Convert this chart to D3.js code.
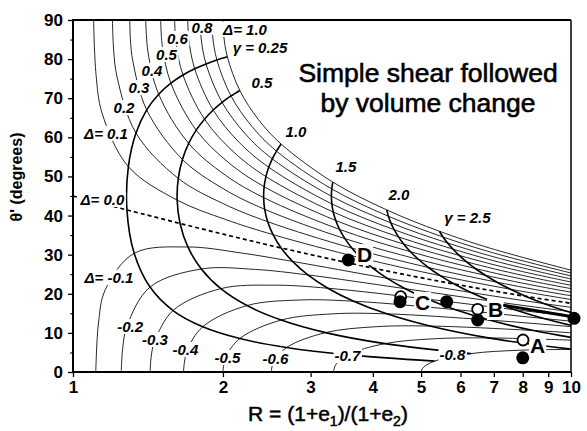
<!DOCTYPE html>
<html>
<head>
<meta charset="utf-8">
<script src="https://cdn.jsdelivr.net/npm/d3@7"></script>
<style>
  body { margin: 0; background: #fff; }
  text { font-family: "Liberation Sans", Arial, Helvetica, sans-serif; }
</style>
</head>
<body>
<svg id="chart" width="587" height="431"></svg>
<script>
// volume change levels (one thin curve each) and shear strain steps along them
const deltaLevels = [1.0, 0.9, 0.8, 0.7, 0.6, 0.5, 0.4, 0.3, 0.2, 0.1, 0.0,
                     -0.1, -0.2, -0.3, -0.4, -0.5, -0.6, -0.7, -0.8];
const gammaSteps = [0, 0.05, 0.1, 0.25, 0.5, 0.75, 1, 1.5, 2, 2.5, 3, 4];
// gamma values that get a heavy curve (columns of the grids below)
const gammaCurves = [0.25, 0.5, 1.0, 1.5, 2.0, 2.5];

// R = (1+e1)/(1+e2), rows follow deltaLevels, columns follow gammaSteps
const ratioGrid = [
  [2.0, null, 2.0067, 2.0414, 2.1626, 2.357, 2.618, 3.324, 4.266, 5.442, 6.854, 10.40],
  [1.9, null, 1.9072, 1.9452, 2.0763, 2.2846, 2.5625, 3.3083, 4.299, 5.535, 7.021, 10.754],
  [1.8, null, 1.808, 1.8496, 1.9926, 2.217, 2.5132, 3.3028, 4.348, 5.651, 7.217, 11.15],
  [1.7, null, 1.709, 1.7553, 1.9124, 2.155, 2.472, 3.310, 4.415, 5.792, 7.448, 11.61],
  [1.6, null, 1.6102, 1.6626, 1.8368, 2.1005, 2.4402, 3.331, 4.503, 5.963, 7.720, 12.14],
  [1.5, null, 1.5119, 1.5724, 1.7676, 2.055, 2.420, 3.370, 4.617, 6.171, 8.042, 12.755],
  [1.4, null, 1.4144, 1.486, 1.707, 2.0214, 2.4143, 3.430, 4.761, 6.423, 8.424, 13.47],
  [1.3, 1.3046, 1.3185, 1.4062, 1.6586, 2.0026, 2.4263, 3.5155, 4.944, 6.728, 8.880, 14.31],
  [1.2, 1.2068, 1.2260, 1.3382, 1.6271, 2.0028, 2.4602, 3.633, 5.173, 7.101, 9.427, 15.30],
  [1.1, 1.1124, 1.1442, 1.2918, 1.6185, 2.027, 2.5216, 3.791, 5.462, 7.559, 10.09, null],
  [1.0, 1.0513, 1.1051, 1.2832, 1.6404, 2.0822, 2.618, 4.0, 5.828, 8.127, 10.908, null],
  [1.1111, 1.1251, 1.1605, 1.327, 1.701, 2.1767, 2.760, 4.277, 6.297, 8.843, 11.93, null],
  [1.25, 1.2586, 1.2832, 1.4278, 1.81, 2.3226, 2.9624, 4.6474, 6.905, 9.76, 13.22, null],
  [1.4286, 1.4354, 1.456, 1.5882, 1.9809, 2.538, 3.249, 5.149, 7.713, 10.966, null, null],
  [1.6667, null, 1.6924, 1.822, 2.236, 2.854, 3.660, 5.845, 8.820, 12.60, null, null],
  [2.0, null, 2.0265, 2.1626, 2.618, 3.324, 4.266, 6.854, 10.40, null, null, null],
  [2.5, null, 2.5298, 2.6835, 3.214, 4.06, 5.208, 8.406, 12.82, null, null, null],
  [3.3333, null, 3.3698, 3.5608, 4.230, 5.320, 6.82, 11.04, null, null, null, null],
  [5.0, null, 5.052, 5.325, 6.291, 7.886, 10.1, null, null, null, null, null]
];

// theta' in degrees, same layout as ratioGrid
const thetaGrid = [
  [90, null, 86.19, 80.6, 71.98, 64.55, 58.28, 48.56, 41.44, 35.99, 31.72, 25.46],
  [90, null, 85.84, 79.78, 70.58, 62.85, 56.48, 46.81, 39.82, 34.52, 30.37, 24.31],
  [90, null, 85.42, 78.77, 68.94, 60.92, 54.5, 44.95, 38.13, 32.99, 28.98, 23.15],
  [90, null, 84.87, 77.53, 66.98, 58.75, 52.34, 42.98, 36.38, 31.43, 27.56, 21.97],
  [90, null, 84.17, 75.95, 64.65, 56.28, 49.96, 40.91, 34.56, 29.81, 26.11, 20.78],
  [90, null, 83.2, 73.86, 61.85, 53.5, 47.38, 38.74, 32.69, 28.15, 24.63, 19.56],
  [90, null, 81.79, 71.03, 58.45, 50.36, 44.59, 36.46, 30.75, 26.46, 23.13, 18.34],
  [90, 84.65, 79.54, 67.0, 54.35, 46.87, 41.6, 34.1, 28.76, 24.73, 21.59, 17.1],
  [90, 82.33, 75.41, 61.09, 49.5, 43.05, 38.43, 31.66, 26.72, 22.96, 20.04, 15.84],
  [90, 76.03, 66.14, 52.5, 43.96, 38.97, 35.12, 29.14, 24.63, 21.16, 18.45, null],
  [45, 44.28, 43.57, 41.44, 37.98, 34.72, 31.72, 26.57, 22.5, 19.33, 16.85, null],
  [0, 12.52, 20.99, 30.35, 31.97, 30.43, 28.27, 23.95, 20.33, 17.47, 15.22, null],
  [0, 6.22, 11.7, 21.72, 26.34, 26.22, 24.82, 21.3, 18.14, 15.59, 13.57, null],
  [0, 3.89, 7.53, 15.72, 21.32, 22.2, 21.42, 18.64, 15.92, 13.69, null, null],
  [0, null, 5.23, 11.56, 16.99, 18.41, 18.1, 15.96, 13.67, 11.77, null, null],
  [0, null, 3.75, 8.55, 13.28, 14.87, 14.87, 13.28, 11.42, null, null, null],
  [0, null, 2.69, 6.25, 10.07, 11.58, 11.75, 10.61, 9.14, null, null, null],
  [0, null, 1.87, 4.38, 7.25, 8.5, 8.72, 7.95, null, null, null, null],
  [0, null, 1.18, 2.79, 4.7, 5.57, 5.77, null, null, null, null, null]
];

// measured samples
const filledR = [3.571, 4.536, 5.628, 6.495, 10.14, 8.0];
const filledTheta = [28.64, 17.97, 17.97, 13.3, 13.73, 3.63];
const openR = [4.55, 6.495, 8.01];
const openTheta = [19.25, 16.03, 8.18];
const sampleNames = ['D', 'C', 'B', 'A'];
const trendR = [7.31, 10.0];
const trendTheta = [17.1, 14.2];

const xTicks = [1, 2, 3, 4, 5, 6, 7, 8, 9, 10];
const yTicks = [0, 10, 20, 30, 40, 50, 60, 70, 80, 90];
const yMinorTicks = [5, 15, 25, 35, 45, 55, 65, 75, 85];

const deltaLabelText = ['\u0394= 1.0', '0.8', '0.6', '0.5', '0.4', '0.3', '0.2', '\u0394= 0.1',
  '\u0394= 0.0', '\u0394= -0.1', '-0.2', '-0.3', '-0.4', '-0.5', '-0.6', '-0.7', '-0.8'];
const gammaLabelText = ['\u03b3 = 0.25', '0.5', '1.0', '1.5', '2.0', '\u03b3 = 2.5'];

const svg = d3.select('#chart');
const plotLeft = 73, plotRight = 571, plotTop = 20, plotBottom = 372;

const x = d3.scaleLog().domain([1, 10]).range([plotLeft, plotRight]);
const y = d3.scaleLinear().domain([0, 90]).range([plotBottom, plotTop]);

svg.append('clipPath').attr('id', 'plotClip')
  .append('rect').attr('x', plotLeft).attr('y', plotTop)
  .attr('width', plotRight - plotLeft).attr('height', plotBottom - plotTop);

const plot = svg.append('g').attr('clip-path', 'url(#plotClip)');

const line = d3.line()
  .x(d => x(d[0]))
  .y(d => y(d[1]))
  .curve(d3.curveCatmullRom.alpha(0.5));

// thin curves of constant volume change
deltaLevels.forEach((delta, i) => {
  const pts = [];
  ratioGrid[i].forEach((r, j) => {
    if (r !== null) pts.push([r, thetaGrid[i][j]]);
  });
  const isZero = delta === 0;
  plot.append('path')
    .attr('d', line(pts))
    .attr('fill', 'none')
    .attr('stroke', '#000')
    .attr('stroke-width', isZero ? 1.7 : 0.85)
    .attr('stroke-dasharray', isZero ? '4,3' : null);
});

// heavy curves of constant shear strain
gammaCurves.forEach(g => {
  const j = gammaSteps.indexOf(g);
  const pts = [];
  deltaLevels.forEach((d, i) => {
    if (ratioGrid[i][j] !== null) pts.push([ratioGrid[i][j], thetaGrid[i][j]]);
  });
  plot.append('path')
    .attr('d', line(pts))
    .attr('fill', 'none')
    .attr('stroke', '#000')
    .attr('stroke-width', 1.6);
});

// labels sit on the curves with a white patch behind them
const labelLayer = svg.append('g');
function addLabel(txt, r, th, size, style, anchor) {
  const t = labelLayer.append('text')
    .attr('x', x(r)).attr('y', y(th))
    .attr('text-anchor', anchor || 'middle')
    .attr('font-size', size + 'px')
    .attr('font-weight', 'bold')
    .attr('font-style', style)
    .text(txt);
  const bb = t.node().getBBox();
  labelLayer.insert('rect', () => t.node())
    .attr('x', bb.x - 1).attr('y', bb.y + 1)
    .attr('width', bb.width + 2).attr('height', bb.height - 2)
    .attr('fill', '#fff');
  return t;
}

const deltaSpots = [[2.215, 86.2], [1.816, 86.7], [1.621, 83.9], [1.541, 79.8], [1.441, 75.7],
  [1.357, 71.3], [1.266, 66.2], [1.165, 59.6], [1.146, 42.7], [1.181, 22.8], [1.302, 10.2],
  [1.461, 6.9], [1.682, 4.35], [2.043, 2.3], [2.551, 2.05], [3.557, 2.8], [5.78, 3.1]];
deltaLabelText.forEach((t, i) => addLabel(t, deltaSpots[i][0], deltaSpots[i][1], 15, 'italic'));

const gammaSpots = [[2.374, 81.6], [2.396, 72.6], [2.804, 60.1], [3.533, 51.1], [4.515, 44.0], [6.196, 38.1]];
gammaLabelText.forEach((t, i) => addLabel(t, gammaSpots[i][0], gammaSpots[i][1], 15, 'italic'));

// trend from B towards the right edge
svg.append('path')
  .attr('d', d3.line()(trendR.map((r, i) => [x(r), y(trendTheta[i])])))
  .attr('stroke', '#000').attr('stroke-width', 3);

// samples
svg.selectAll('circle.open').data(openR).enter().append('circle')
  .attr('class', 'open')
  .attr('cx', d => x(d)).attr('cy', (d, i) => y(openTheta[i]))
  .attr('r', 5.5).attr('fill', '#fff').attr('stroke', '#000').attr('stroke-width', 1.8);
svg.selectAll('circle.filled').data(filledR).enter().append('circle')
  .attr('class', 'filled')
  .attr('cx', d => x(d)).attr('cy', (d, i) => y(filledTheta[i]))
  .attr('r', 6.5).attr('fill', '#000');

const nameSpots = [[3.718, 28.1], [4.862, 15.85], [6.81, 14.06], [8.275, 4.86]];
sampleNames.forEach((n, i) => addLabel(n, nameSpots[i][0], nameSpots[i][1], 21, 'normal', 'start'));

// frame
svg.append('line').attr('x1', plotLeft).attr('x2', plotRight).attr('y1', plotTop).attr('y2', plotTop)
  .attr('stroke', '#000').attr('stroke-width', 2);
svg.append('line').attr('x1', plotRight).attr('x2', plotRight).attr('y1', plotTop).attr('y2', plotBottom)
  .attr('stroke', '#000').attr('stroke-width', 1.5);
svg.append('line').attr('x1', plotLeft).attr('x2', plotLeft).attr('y1', plotTop - 1).attr('y2', plotBottom + 1)
  .attr('stroke', '#000').attr('stroke-width', 2);
svg.append('line').attr('x1', plotLeft - 1).attr('x2', plotRight).attr('y1', plotBottom).attr('y2', plotBottom)
  .attr('stroke', '#000').attr('stroke-width', 2);

// axes
const xAxis = svg.append('g').attr('transform', `translate(0,${plotBottom})`)
  .call(d3.axisBottom(x).tickValues(xTicks).tickFormat(d3.format('d')).tickSize(5).tickPadding(4));
const yAxis = svg.append('g').attr('transform', `translate(${plotLeft},0)`)
  .call(d3.axisLeft(y).tickValues(yTicks).tickSize(5).tickPadding(5));
svg.append('g').attr('transform', `translate(${plotLeft},0)`)
  .call(d3.axisLeft(y).tickValues(yMinorTicks).tickSize(3).tickFormat(''))
  .call(g => g.select('.domain').remove());
[xAxis, yAxis].forEach(a => {
  a.select('.domain').remove();
  a.selectAll('line').attr('stroke-width', 1.3);
  a.selectAll('text')
    .attr('font-family', '"Liberation Sans", Arial, sans-serif')
    .attr('font-weight', 'bold').attr('fill', '#000');
});
xAxis.selectAll('text').attr('font-size', '17px');
yAxis.selectAll('text').attr('font-size', '17px');

// axis titles
const xTitle = svg.append('text')
  .attr('x', 328).attr('y', 421).attr('text-anchor', 'middle')
  .attr('font-size', '21px')
  .attr('stroke', '#000').attr('stroke-width', 0.5);
xTitle.append('tspan').text('R = (1+e');
xTitle.append('tspan').attr('font-size', '14px').attr('dy', 5).text('1');
xTitle.append('tspan').attr('dy', -5).text(')/(1+e');
xTitle.append('tspan').attr('font-size', '14px').attr('dy', 5).text('2');
xTitle.append('tspan').attr('dy', -5).text(')');

svg.append('text')
  .attr('transform', 'translate(22,177) rotate(-90)')
  .attr('text-anchor', 'middle')
  .attr('font-size', '16px').attr('font-weight', 'bold')
  .text("\u03b8' (degrees)");

// chart title
const title = svg.append('text').attr('text-anchor', 'middle').attr('font-size', '26.5px')
  .attr('stroke', '#000').attr('stroke-width', 0.6);
title.append('tspan').attr('x', 428).attr('y', 82).text('Simple shear followed');
title.append('tspan').attr('x', 428).attr('y', 112).text('by volume change');
</script>
</body>
</html>
